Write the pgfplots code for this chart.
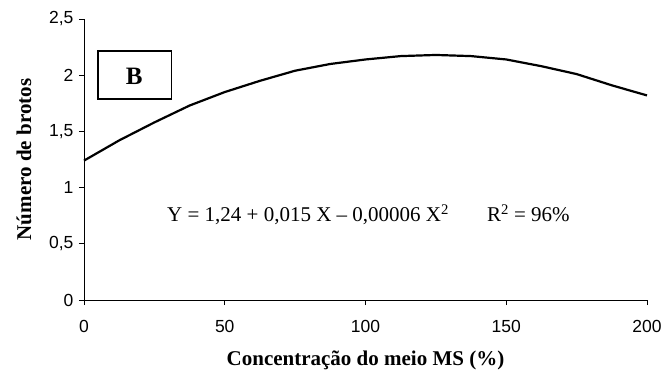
\documentclass[border=0pt]{standalone}
\usepackage{fontspec}
\setmainfont{Liberation Serif}
\setsansfont{Liberation Sans}
\usepackage{pgfplots}
\pgfplotsset{compat=1.18}
\begin{document}
\begin{tikzpicture}[x=1pt,y=1pt]
\path[use as bounding box] (-84,-75) rectangle (579,300);
\begin{axis}[
  at={(0,0)}, anchor=south west,
  scale only axis, width=563pt, height=281pt,
  xmin=0, xmax=200, ymin=0, ymax=2.5,
  axis x line*=bottom, axis y line*=left,
  axis line style={-, line width=0.8pt},
  xtick={0,50,100,150,200},
  ytick={0,0.5,1,1.5,2,2.5},
  tick align=outside, major tick length=5pt,
  tick style={black, line width=0.8pt},
  /pgf/number format/assume math mode=true,
  /pgf/number format/use comma,
  tick label style={font=\fontsize{17.5}{17.5}\selectfont\sffamily},
  xticklabel style={yshift=-12pt},
  yticklabel style={xshift=-2pt},
  xlabel={Concentração do meio MS (\%)},
  ylabel={Número de brotos},
  every axis x label/.style={at={(axis description cs:0.5,-0.2135)}, anchor=center, font=\fontsize{21}{21}\selectfont\bfseries},
  every axis y label/.style={at={(axis description cs:-0.1066,0.5)}, anchor=center, rotate=90, font=\fontsize{21}{21}\selectfont\bfseries},
  clip=false,
]
\addplot[black, line width=2.2pt] coordinates {
(0,1.24) (12.5,1.42) (25,1.58) (37.5,1.73) (50,1.85) (62.5,1.95) (75,2.04)
(87.5,2.10) (100,2.14) (112.5,2.17) (125,2.18) (137.5,2.17) (150,2.14)
(162.5,2.08) (175,2.01) (187.5,1.91) (200,1.82)};
\draw[black, line width=1.5pt] (axis cs:5.0,1.79) rectangle (axis cs:31.0,2.215);
\node[font=\fontsize{25}{25}\selectfont\bfseries] at (axis cs:17.8,1.99) {B};
\node[anchor=west, inner sep=0pt, font=\fontsize{21}{21}\selectfont] at (axis cs:29.5,0.76)
  {Y = 1,24 + 0,015 X – 0,00006 X\textsuperscript{2}\hspace{38pt}R\textsuperscript{2} = 96\%};
\end{axis}
\end{tikzpicture}
\end{document}
